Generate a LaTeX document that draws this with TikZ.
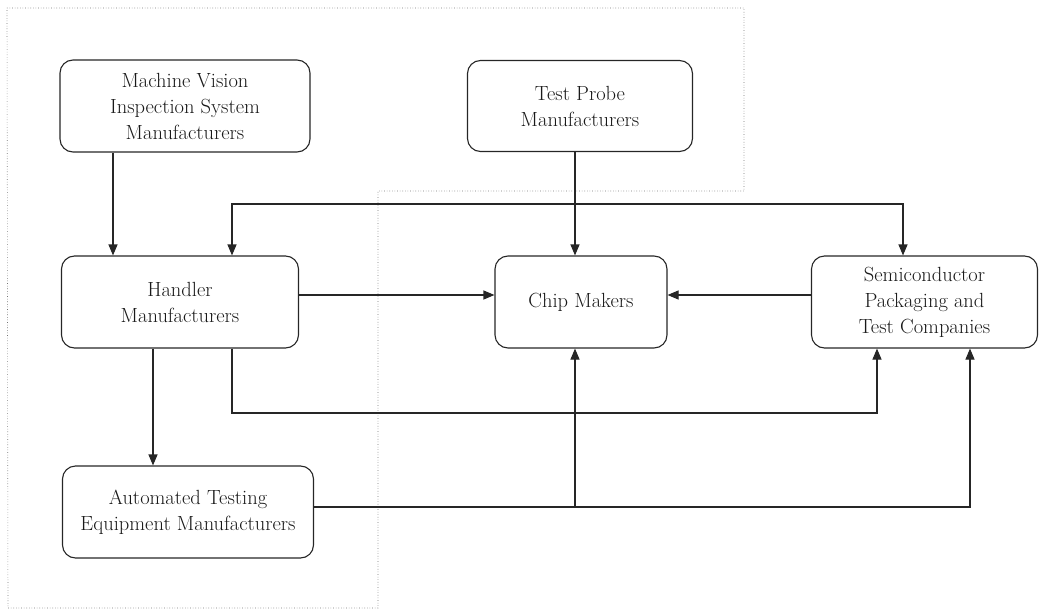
\documentclass[tikz,border=0pt]{standalone}
\usepackage{fontspec}
\setmainfont{Latin Modern Roman}
\usetikzlibrary{arrows.meta}
\begin{document}
\begin{tikzpicture}[x=1pt,y=-1pt,
  box/.style={draw=black!85,line width=1.1pt,rounded corners=13pt,align=center,
    inner sep=0pt,font=\fontsize{20.5}{26}\selectfont,text=black!90},
  arr/.style={draw=black!85,line width=1.1pt,-{Triangle[length=11pt,width=9pt]}},
  arrb/.style={draw=black!85,line width=1.1pt,{Triangle[length=11pt,width=9pt]}-{Triangle[length=11pt,width=9pt]}},
  frame/.style={draw=black!55,dotted,line width=0.6pt}]
\useasboundingbox (0,0) rectangle (1039,610);
\draw[frame] (7,8) -- (744,8) -- (744,191) -- (378,191) -- (378,608) -- (8,608) -- cycle;
\node[box,minimum width=250pt,minimum height=92pt] (mv) at (185,106) {Machine Vision\\Inspection System\\Manufacturers};
\node[box,minimum width=225pt,minimum height=91pt] (tp) at (580,106) {Test Probe\\Manufacturers};
\node[box,minimum width=237pt,minimum height=92pt] (hm) at (180,302) {Handler\\Manufacturers};
\node[box,minimum width=172pt,minimum height=92pt] (cm) at (581,302) {Chip Makers};
\node[box,minimum width=226pt,minimum height=92pt] (sp) at (924.5,302) {Semiconductor\\Packaging and\\Test Companies};
\node[box,minimum width=251pt,minimum height=92pt] (am) at (188,512) {Automated Testing\\Equipment Manufacturers};
\coordinate (c113) at (113,0);
\coordinate (c153) at (153,0);
\coordinate (c232) at (232,0);
\coordinate (c575) at (575,0);
\coordinate (c877) at (877,0);
\coordinate (c903) at (903,0);
\coordinate (c970) at (970,0);
\coordinate (r204) at (0,204);
\coordinate (r295) at (0,295);
\coordinate (r413) at (0,413);
\coordinate (r507) at (0,507);
\draw[arr] (mv.south -| c113) -- (hm.north -| c113);
\draw[arr] (tp.south -| c575) -- (cm.north -| c575);
\draw[arrb] (hm.north -| c232) -- (c232 |- r204) -- (c903 |- r204) -- (sp.north -| c903);
\draw[arr] (hm.east |- r295) -- (cm.west |- r295);
\draw[arr] (sp.west |- r295) -- (cm.east |- r295);
\draw[arr] (hm.south -| c153) -- (am.north -| c153);
\draw[arr] (hm.south -| c232) -- (c232 |- r413) -- (c877 |- r413) -- (sp.south -| c877);
\draw[arr] (am.east |- r507) -- (c970 |- r507) -- (sp.south -| c970);
\draw[arr] (c575 |- r507) -- (cm.south -| c575);
\end{tikzpicture}
\end{document}
